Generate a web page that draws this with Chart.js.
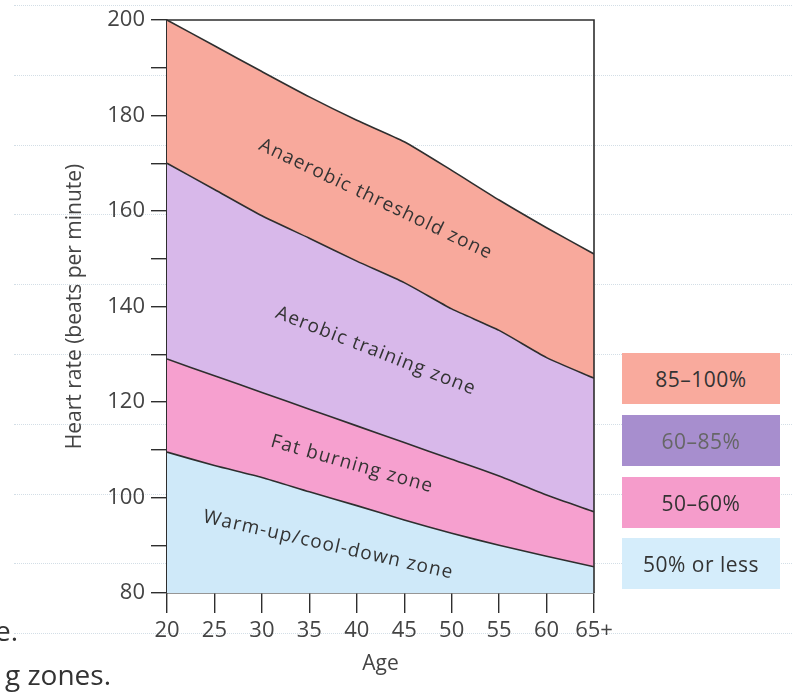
<!DOCTYPE html>
<html>
<head>
<meta charset="utf-8">
<title>Heart rate training zones</title>
<script src="https://cdn.jsdelivr.net/npm/chart.js@4.4.1/dist/chart.umd.min.js"></script>
<style>
    html, body { margin: 0; padding: 0; background: #fff; }
    #wrap { position: relative; width: 792px; height: 695px; overflow: hidden; font-family: 'Open Sans', sans-serif; }
    #chart { position: absolute; left: 0; top: 0; }
    .rule { position: absolute; left: 14px; right: 0; height: 0; border-top: 1px dotted #d3dee6; }
    .key { position: absolute; left: 622px; width: 158px; height: 51px; display: flex; align-items: center; justify-content: center; font-size: 21px; letter-spacing: 0.5px; color: #333; }
    .frag { position: absolute; color: #333; font-size: 28px; }
</style>
</head>
<body>
<div id="wrap">
    <div id="rules"></div>
    <canvas id="chart" width="792" height="695"></canvas>
    <div id="key"></div>
    <div class="frag" style="left:-5px; top:611px;">e.</div>
    <div class="frag" style="left:5px; top:655px;">g zones.</div>
</div>
<script>
/* ------------------------------------------------------------------ */
/*  Data                                          */
/* ------------------------------------------------------------------ */

const ages = [20, 25, 30, 35, 40, 45, 50, 55, 60, 65];

// boundary lines, beats per minute (50%, 60%, 85%, 100% of max)
const line50 = [109.5, 106.7, 104.2, 101.2, 98.3, 95.3, 92.5, 90, 87.7, 85.5];
const line60 = [129, 125.5, 122, 118.5, 115, 111.5, 108, 104.5, 100.5, 97];
const line85 = [170, 164.5, 159, 154.3, 149.5, 145, 139.5, 135, 129.3, 125];
const line100 = [200, 194.6, 189.2, 183.9, 179, 174.5, 168.5, 162.3, 156.5, 151];

const zoneNames = ['Warm-up/cool-down zone', 'Fat burning zone', 'Aerobic training zone', 'Anaerobic threshold zone'];
const zoneColors = ['#cfe9f9', '#f6a0cf', '#d8b8ea', '#f8a99c'];

const keyLabels = ['85–100%', '60–85%', '50–60%', '50% or less'];
const keyColors = ['#f9aa9d', '#a78ece', '#f59ccb', '#d5edfb'];
const keyText = ['#333', '#666', '#333', '#333'];

const yMin = 80, yMax = 200, yStep = 10, yLabelEvery = 20;

/* ------------------------------------------------------------------ */

const ink = '#2e2e2e';
const font = "'Open Sans', sans-serif";

// faint ruled lines of the printed page behind the chart
const rules = document.getElementById('rules');
for (let k = 0; k < 10; k++) {
    const r = document.createElement('div');
    r.className = 'rule';
    r.style.top = Math.round(5 + 69.8 * k) + 'px';
    rules.appendChild(r);
}

function pts(arr) {
    return ages.map((a, i) => ({ x: a, y: arr[i] }));
}

function band(label, arr, color, fill) {
    return {
        label: label,
        data: pts(arr),
        borderColor: ink,
        borderWidth: 1.6,
        backgroundColor: color,
        fill: fill,
        tension: 0.2,
        pointRadius: 0
    };
}

// zone label placement (age) for each band
const zoneLabelAt = [37, 39.5, 42, 42];

const zoneLabels = {
    id: 'zoneLabels',
    afterDatasetsDraw(chart) {
        const { ctx, chartArea, scales: { x, y } } = chart;
        const lines = [null, line50, line60, line85, line100];
        const valAt = (arr, age) => {
            if (!arr) return yMin;
            const i = Math.min(Math.floor((age - ages[0]) / 5), ages.length - 2);
            const t = (age - ages[i]) / 5;
            return arr[i] + (arr[i + 1] - arr[i]) * t;
        };
        const angleOf = (arr) => {
            const dx = x.getPixelForValue(65) - x.getPixelForValue(20);
            const dy = y.getPixelForValue(arr[arr.length - 1]) - y.getPixelForValue(arr[0]);
            return Math.atan2(dy, dx);
        };

        ctx.save();
        // frame: top and right edge
        ctx.strokeStyle = ink;
        ctx.lineWidth = 1.6;
        ctx.beginPath();
        ctx.moveTo(chartArea.left, chartArea.top);
        ctx.lineTo(chartArea.right, chartArea.top);
        ctx.lineTo(chartArea.right, chartArea.bottom);
        ctx.stroke();

        ctx.fillStyle = '#333';
        ctx.font = '19px ' + font;
        ctx.letterSpacing = '1.2px';
        ctx.textAlign = 'center';
        ctx.textBaseline = 'middle';
        zoneNames.forEach((name, k) => {
            const age = zoneLabelAt[k];
            const lo = valAt(lines[k], age);
            const hi = valAt(lines[k + 1], age);
            const px = x.getPixelForValue(age);
            const py = y.getPixelForValue((lo + hi) / 2);
            const ang = lines[k] ? (angleOf(lines[k]) + angleOf(lines[k + 1])) / 2 * 0.92 : angleOf(lines[k + 1]) * 0.85;
            ctx.save();
            ctx.translate(px, py);
            ctx.rotate(ang);
            ctx.fillText(name, 0, 0);
            ctx.restore();
        });
        ctx.restore();
    }
};

const chart = new Chart(document.getElementById('chart'), {
    type: 'line',
    data: {
        datasets: [
            band(zoneNames[0], line50, zoneColors[0], 'start'),
            band(zoneNames[1], line60, zoneColors[1], '-1'),
            band(zoneNames[2], line85, zoneColors[2], '-1'),
            band(zoneNames[3], line100, zoneColors[3], '-1')
        ]
    },
    options: {
        responsive: false,
        animation: false,
        layout: { padding: { left: 0, right: 198, top: 20, bottom: 0 } },
        plugins: {
            legend: { display: false },
            tooltip: { enabled: false }
        },
        scales: {
            x: {
                type: 'linear',
                min: 20,
                max: 65,
                afterFit: (s) => { s.height = 102; },
                border: { display: true, color: ink, width: 1.6 },
                grid: { drawOnChartArea: false, drawTicks: true, tickLength: 20, color: ink, lineWidth: 1.4 },
                ticks: {
                    stepSize: 5,
                    padding: 5,
                    color: '#444',
                    font: { family: font, size: 22 },
                    maxRotation: 0,
                    callback: (v) => (v === 65 ? '65+' : v)
                },
                title: {
                    display: true,
                    text: 'Age',
                    color: '#444',
                    font: { family: font, size: 21 },
                    padding: { top: 0, bottom: 18 }
                }
            },
            y: {
                min: yMin,
                max: yMax,
                afterFit: (s) => { s.width = 167; },
                border: { display: true, color: ink, width: 1.6 },
                grid: { drawOnChartArea: false, drawTicks: true, tickLength: 16, color: ink, lineWidth: 1.4 },
                ticks: {
                    stepSize: yStep,
                    padding: 6,
                    color: '#444',
                    font: { family: font, size: 22 },
                    callback: (v) => (v % yLabelEvery === 0 ? v : '')
                },
                title: {
                    display: true,
                    text: 'Heart rate (beats per minute)',
                    color: '#444',
                    font: { family: font, size: 21 },
                    padding: { top: 62, bottom: 0 }
                }
            }
        }
    },
    plugins: [zoneLabels]
});

// key boxes on the right
const key = document.getElementById('key');
const keyTop = [353, 415, 477, 538];
keyLabels.forEach((txt, i) => {
    const d = document.createElement('div');
    d.className = 'key';
    d.style.top = keyTop[i] + 'px';
    d.style.background = keyColors[i];
    d.style.color = keyText[i];
    d.textContent = txt;
    key.appendChild(d);
});
</script>
</body>
</html>
